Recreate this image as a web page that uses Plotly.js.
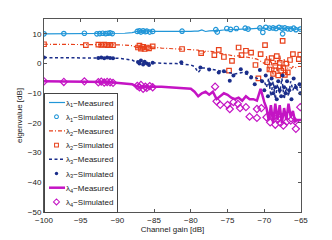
<!DOCTYPE html>
<html><head><meta charset="utf-8">
<script src="https://cdn.plot.ly/plotly-3.0.1.min.js"></script>
<style>body{margin:0;background:#fff}#c{width:332px;height:240px}</style>
</head><body><div id="c"></div>
<script>
const measX = [-100,-99,-98,-97,-96,-95,-94,-93,-92.5,-92,-91.5,-91,-90.5,-90,-89,-88,-87.5,-87,-86.5,-86,-85.5,-85,-84,-83,-82,-81,-80,-79.5,-79,-78.5,-78,-77.5,-77,-76.5,-76,-75.5,-75,-74.5,-74,-73.5,-73,-72.5,-72,-71.5,-71,-70.5,-70,-69.7,-69.4,-69.1,-68.8,-68.5,-68.2,-67.9,-67.6,-67.3,-67,-66.7,-66.4,-66.1,-65.8,-65.5,-65.2,-65];
const l1Meas = [10,10,10,10,10.1,10.1,10.1,10.1,10.2,10.1,10.2,10.1,10.2,10.2,10.2,10.4,10.8,11,10.9,11,10.8,10.8,10.6,10.6,10.7,10.8,10.8,10.9,10.9,11.3,10.8,11,11,11.1,11.2,11.3,11.4,11.4,11.5,11.5,11.6,11.6,11.7,11.8,11.8,11.9,12,11.6,12.1,11.7,12.2,11.8,12.1,11.6,12,11.7,12.1,11.6,11.9,11.7,11.6,11.5,11.6,11.5];
const l2Meas = [6.5,6.5,6.5,6.5,6.4,6.4,6.4,6.4,6.4,6.4,6.3,6.3,6.3,6.3,6.2,6,5.5,5.3,5.6,5.2,5.5,5.5,5.2,5.1,5,5,4.8,4.6,4.5,3,4.2,4.1,4,3.6,3.5,3.2,3,2.8,2.5,2.6,2.5,2.2,2,1.8,1.5,0.8,0,2.5,-3,2,-4,1,-3.5,3,-2.5,1.5,-4,0,-2,-1,-1.5,-1,-1,-1];
const l3Meas = [2,2,2,2,2,2,2,2,2,2,2,2,1.9,1.8,1.5,1.2,0.5,0.2,0.5,0,0.3,0.2,0,0,0,-0.2,-0.5,-1,-3,-1.5,-1.5,-1.8,-2,-2.2,-2.5,-2.8,-3,-3.2,-3.5,-3.2,-3,-3.5,-4,-4.5,-5,-5.5,-6,-8,-5,-11,-6,-12,-7,-10,-5,-12,-8,-11,-6,-9,-7,-9,-8,-8];
const l4Meas = [-6,-6,-6,-6,-6.1,-6.1,-6,-6.1,-6.1,-6.2,-6.2,-6.3,-6.4,-6.5,-6.7,-7,-7.5,-8,-7.8,-7.8,-7.7,-7.7,-7.8,-8,-8.2,-8.3,-8.5,-9.5,-11,-10,-9.5,-10.5,-9.5,-12,-11,-10,-10.5,-11.5,-12,-11.5,-12.5,-11,-12,-12,-12.5,-8.5,-13,-15,-19,-14,-20,-13.5,-19,-14,-20,-15,-19,-13.5,-18,-16,-19.5,-19,-19,-19];

const s1X = [-100,-97.3,-94.5,-92.8,-92.4,-92,-91.6,-91.3,-91,-90.7,-87.3,-87,-86.8,-86.5,-86.2,-86,-85.6,-85.2,-81.2,-76.6,-76.4,-75.1,-74.6,-73.8,-72.6,-72.2,-70.6,-70.2,-69.8,-69.3,-68.8,-68.4,-68,-67.6,-67.5,-67.2,-66.8,-66.4,-66,-65.7,-65.1];
const s1Y = [10,10.1,10.2,10,10.1,10.2,10.1,10.2,10.3,10.1,10.8,11,10.6,11,10.7,10.9,10.6,10.8,10.9,11.4,10.6,11.8,11.5,11.8,11.9,11.6,12,10.5,12.2,11.9,12,11.8,12.2,11.9,10,12,11.7,11.6,11.9,11.4,11.6];
const s2X = [-100,-94.3,-92.6,-92.2,-91.8,-91.4,-91,-90.6,-87.2,-87,-86.8,-86.5,-86.3,-86,-85.7,-85.2,-81.2,-78.6,-76.8,-76.2,-75.5,-74.8,-74.4,-73.5,-73.1,-72.5,-71.8,-71.2,-70.8,-70.5,-69.9,-69.6,-69.3,-69,-68.8,-68.5,-68.3,-68.1,-67.9,-67.7,-67.5,-67.4,-67.2,-67,-66.8,-66.5,-66.1,-65.3,-65.1];
const s2Y = [6.5,6.2,6.4,6.3,6.4,6.2,6.3,6.2,5.4,6,5,5.6,4.9,5.4,5.1,5.8,4.9,3.5,2.8,4.6,2.2,-2.4,0.9,5.4,2.8,4.3,3.7,-0.5,-5,3.2,6.2,0.5,-2,1.8,-3.5,-0.8,2.5,-4,0.2,-2.5,7.6,-1.5,-3.8,0,-3,1.2,3.2,1.5,3];
const s3X = [-100,-92.6,-92.2,-91.8,-91.4,-91,-90.6,-87.2,-87,-86.8,-86.5,-86.3,-86,-85.7,-85.2,-81.3,-78.7,-77.5,-76.2,-75.5,-74.7,-74.2,-73.2,-72.4,-71.8,-71.3,-70.6,-70.3,-70,-69.8,-69.5,-69.2,-69,-68.8,-68.5,-68.3,-68.1,-67.9,-67.7,-67.5,-67.3,-67.1,-66.9,-66.6,-66.3,-66,-65.7,-65.2,-65.1];
const s3Y = [2,1.9,2,1.8,2,1.9,1.8,0.5,0,1,-0.3,0.6,0,-0.5,0.3,0.4,-1.3,-2,-3,-2.6,-5.8,-4,-1.9,-3,-4.7,-7,-2.2,-6,-9,-4,-11,-7,-5,-10,-8,-12,-6,-9,-11,-4,-8,-10,-6,-9,-12,-5,-8,-7,-10];
const s4X = [-100,-97.3,-94.5,-92.6,-92.2,-91.8,-91.4,-91,-90.6,-87.3,-87,-86.8,-86.5,-86.2,-86,-85.6,-85.2,-76.7,-76.5,-76,-75,-74.7,-74.2,-73.6,-73.3,-72.5,-72,-71,-71,-70.4,-69.7,-69.2,-68.8,-68.5,-68.1,-67.8,-67.4,-66.9,-66.4,-65.8,-65.7,-65.1];
const s4Y = [-6,-6.2,-6,-6.3,-6.1,-6.4,-6.2,-6.3,-6.5,-7.5,-8,-7.2,-8.5,-7.8,-8.2,-7.6,-8,-7.8,-12.7,-13.9,-13.9,-15.3,-13,-13.6,-15,-14.7,-17.9,-15.3,-18.3,-15,-18.1,-19.8,-18,-20.6,-18.7,-20,-20.9,-19.5,-19.2,-19.5,-22,-14.7];
const names = ['λ<sub>1</sub>−Measured','λ<sub>1</sub>−Simulated','λ<sub>2</sub>−Measured','λ<sub>2</sub>−Simulated','λ<sub>3</sub>−Measured','λ<sub>3</sub>−Simulated','λ<sub>4</sub>−Measured','λ<sub>4</sub>−Simulated'];

const c1='#2196d8', c2='#e8401a', c3='#1a2d8a', c4='#c414c4';
const traces = [
 {x:measX,y:l1Meas,mode:'lines',name:names[0],line:{color:c1,width:1.2}},
 {x:s1X,y:s1Y,mode:'markers',name:names[1],marker:{symbol:'circle-open',color:c1,size:4.5,line:{width:1.2}}},
 {x:measX,y:l2Meas,mode:'lines',name:names[2],line:{color:c2,width:1.2,dash:'4px,2px,1px,2px'}},
 {x:s2X,y:s2Y,mode:'markers',name:names[3],marker:{symbol:'square-open',color:c2,size:4.5,line:{width:1.2}}},
 {x:measX,y:l3Meas,mode:'lines',name:names[4],line:{color:c3,width:1.5,dash:'3px,2.5px'}},
 {x:s3X,y:s3Y,mode:'markers',name:names[5],marker:{symbol:'circle',color:c3,size:4}},
 {x:measX,y:l4Meas,mode:'lines',name:names[6],line:{color:c4,width:2.5}},
 {x:s4X,y:s4Y,mode:'markers',name:names[7],marker:{symbol:'diamond-open',color:c4,size:5.5,line:{width:1.2}}}
];
const ax = {showline:true,mirror:'ticks',linecolor:'#555',linewidth:1,ticks:'inside',ticklen:3,tickcolor:'#555',showgrid:false,zeroline:false,tickfont:{size:8,color:'#222'}};
const layout = {
 width:332,height:240,margin:{l:44,r:31,t:19,b:28},
 font:{family:'Liberation Sans, Arial, DejaVu Sans, sans-serif',size:8,color:'#222'},
 paper_bgcolor:'#fff',plot_bgcolor:'#fff',
 xaxis:Object.assign({},ax,{range:[-100,-65],tickvals:[-100,-95,-90,-85,-80,-75,-70,-65],title:{text:'Channel gain [dB]',font:{size:8},standoff:2}}),
 yaxis:Object.assign({},ax,{range:[-50,15],tickvals:[-50,-40,-30,-20,-10,0,10],title:{text:'eigenvalue [dB]',font:{size:8},standoff:4}}),
 showlegend:true,
 legend:{x:0,y:0,xanchor:'left',yanchor:'bottom',bgcolor:'#fff',bordercolor:'#444',borderwidth:1,font:{size:8},itemwidth:30,tracegroupgap:0}
};
const gd = document.getElementById('c');
Plotly.newPlot(gd,traces,layout,{staticPlot:true}).then(function(){
  // compact the legend to the reference's Matlab-style spacing
  const sz = gd._fullLayout._size;
  const leg = gd.querySelector('g.legend');
  if(!leg) return;
  const pitch = 14.2, top0 = 9.5, H = 119, W = 73;
  const left = sz.l, bottom = sz.t + sz.h;
  leg.setAttribute('transform','translate('+left+','+(bottom-H)+')');
  const bg = leg.querySelector('rect.bg');
  if(bg){bg.setAttribute('width',W);bg.setAttribute('height',H);bg.setAttribute('x',0.5);bg.setAttribute('y',0.5);}
  const sb = leg.querySelector('g.scrollbox'); if(sb) sb.setAttribute('transform','translate(0,0)');
  const items = leg.querySelectorAll('g.traces');
  items.forEach(function(it,i){
    it.setAttribute('transform','translate(0,'+(top0+i*pitch)+')');
    const t = it.querySelector('text.legendtext');
    if(t){ t.setAttribute('x',22); t.querySelectorAll('tspan[x]').forEach(s=>s.setAttribute('x',22)); }
    it.querySelectorAll('path.js-line').forEach(p=>p.setAttribute('d','M5,0h16'));
    it.querySelectorAll('path.scatterpts').forEach(p=>p.setAttribute('transform','translate(12.5,0) scale(0.85)'));
  });
  const cp = document.querySelectorAll('clipPath[id*="legend"] rect');
  cp.forEach(r=>{r.setAttribute('width',W+2);r.setAttribute('height',H+2);r.setAttribute('x',0);r.setAttribute('y',0);});
});
</script></body></html>
